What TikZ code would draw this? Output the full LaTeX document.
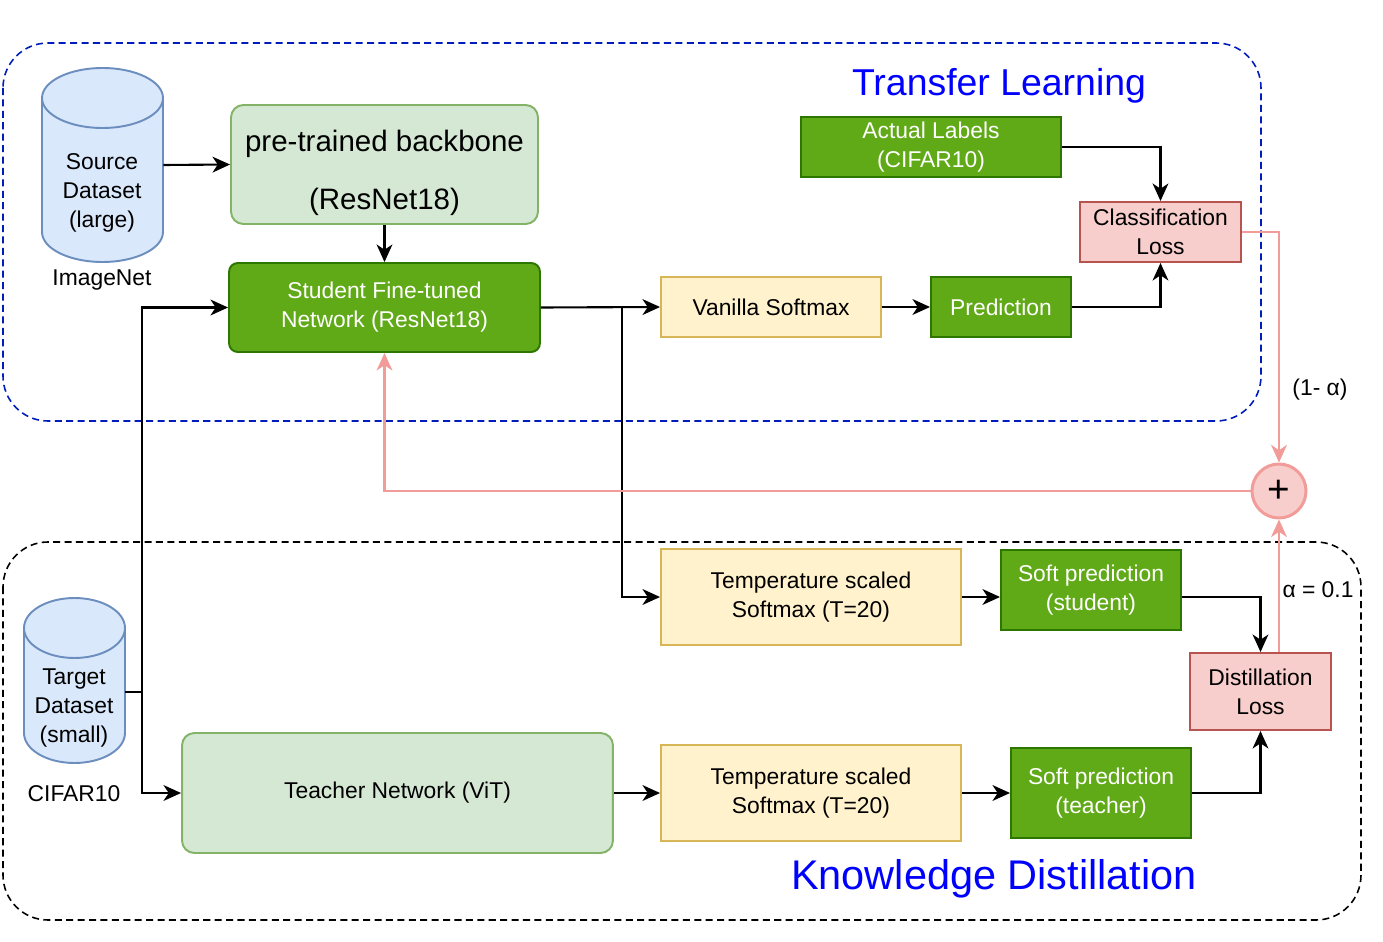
\documentclass[tikz,border=0pt]{standalone}
\usepackage{fontspec}
\setmainfont{Liberation Sans}
\usepackage{tikz}
\usetikzlibrary{positioning, arrows.meta, calc}

\definecolor{lgfill}{HTML}{D5E8D4}
\definecolor{lgdraw}{HTML}{82B366}
\definecolor{gfill}{HTML}{60A917}
\definecolor{gdraw}{HTML}{2D7600}
\definecolor{yfill}{HTML}{FFF2CC}
\definecolor{ydraw}{HTML}{D6B656}
\definecolor{rfill}{HTML}{F8CECC}
\definecolor{rdraw}{HTML}{B85450}
\definecolor{pline}{HTML}{F19C99}
\definecolor{dbfill}{HTML}{DAE8FC}
\definecolor{dbdraw}{HTML}{6C8EBF}
\definecolor{grpblue}{HTML}{001DBC}
\definecolor{ttlblue}{HTML}{0000FF}

\begin{document}
\begin{tikzpicture}[
  x=0.02cm, y=-0.02cm,
  every node/.style={font=\fontsize{13}{16.5}\selectfont, align=center, inner sep=2pt},
  lgbox/.style={rounded corners=7pt, fill=lgfill, draw=lgdraw, line width=1.1pt},
  gbox/.style={fill=gfill, draw=gdraw, line width=1.1pt, text=white},
  ybox/.style={fill=yfill, draw=ydraw, line width=1.1pt},
  rbox/.style={fill=rfill, draw=rdraw, line width=1.1pt},
  db/.style={fill=dbfill, draw=dbdraw, line width=1.1pt},
  arr/.style={line width=1.2pt, -{Stealth[length=10pt, width=9pt, inset=3pt]}},
  parr/.style={pline, line width=1.2pt, -{Stealth[length=10pt, width=9pt, inset=3pt]}},
  grp/.style={dash pattern=on 4pt off 2.5pt, line width=0.9pt, rounded corners=0.9cm},
  ttl/.style={text=ttlblue, font=\fontsize{21.3}{24}\selectfont},
]
  \useasboundingbox (0,0) rectangle (1383,942);

  % group frames
  \draw[grp, grpblue] (3,43) rectangle (1261,421);
  \draw[grp, black] (3,542) rectangle (1361,920);
  \node[ttl] (tltitle) at (999,86) {Transfer Learning};
  \node[ttl, font=\fontsize{23.6}{26}\selectfont] (kdtitle) at (994,879) {Knowledge Distillation};

  % datasets
  \filldraw[db] (42,98) -- (42,232) arc[start angle=180, end angle=360, x radius=1.21cm, y radius=0.6cm]
    -- (163,98) arc[start angle=0, end angle=180, x radius=1.21cm, y radius=0.6cm] -- cycle;
  \draw[db, fill=none] (42,98) arc[start angle=180, end angle=360, x radius=1.21cm, y radius=0.6cm];
  \node[minimum width=2.42cm, minimum height=3.88cm, inner sep=0pt] (src) at (102.5,165) {};
  \node (srctxt) at (102,193) {Source\\Dataset\\(large)};
  \node (imgnet) at (102,280) {ImageNet};

  \filldraw[db] (24,628) -- (24,733) arc[start angle=180, end angle=360, x radius=1.01cm, y radius=0.6cm]
    -- (125,628) arc[start angle=0, end angle=180, x radius=1.01cm, y radius=0.6cm] -- cycle;
  \draw[db, fill=none] (24,628) arc[start angle=180, end angle=360, x radius=1.01cm, y radius=0.6cm];
  \node[minimum width=2.02cm, minimum height=3.3cm, inner sep=0pt] (tgt) at (74.5,680.5) {};
  \node (tgttxt) at (74,708) {Target\\Dataset\\(small)};
  \node (cifar) at (74,794) {CIFAR10};

  % transfer learning branch
  \node[lgbox, minimum width=6.14cm, minimum height=2.38cm, font=\fontsize{16.8}{33}\selectfont] (pre) at (384.5,164.5) {\rule{0pt}{22pt}pre-trained backbone\\(ResNet18)};
  \node[gbox, rounded corners=5pt, minimum width=6.22cm, minimum height=1.78cm] (student) at (384.5,307.5) {Student Fine-tuned\\Network (ResNet18)};
  \node[ybox, minimum width=4.4cm, minimum height=1.2cm] (vanilla) at (771,307) {Vanilla Softmax};
  \node[gbox, minimum width=2.8cm, minimum height=1.2cm] (pred) at (1001,307) {Prediction};
  \node[gbox, minimum width=5.2cm, minimum height=1.2cm] (labels) at (931,147) {Actual Labels\\(CIFAR10)};
  \node[rbox, minimum width=3.22cm, minimum height=1.2cm] (closs) at (1160.5,232) {Classification\\Loss};

  % distillation branch
  \node[ybox, minimum width=6cm, minimum height=1.92cm] (temps) at (811,597) {Temperature scaled\\Softmax (T=20)};
  \node[gbox, minimum width=3.6cm, minimum height=1.6cm] (softs) at (1091,590) {Soft prediction\\(student)};
  \node[rbox, minimum width=2.82cm, minimum height=1.54cm] (dloss) at (1260.5,691.5) {Distillation\\Loss};
  \node[lgbox, minimum width=8.62cm, minimum height=2.4cm] (teacher) at (397.5,793) {Teacher Network (ViT)};
  \node[ybox, minimum width=6cm, minimum height=1.92cm] (tempt) at (811,793) {Temperature scaled\\Softmax (T=20)};
  \node[gbox, minimum width=3.6cm, minimum height=1.8cm] (softt) at (1101,793) {Soft prediction\\(teacher)};

  % weighted sum
  \node[circle, fill=rfill, draw=pline, line width=1.7pt, minimum size=1.08cm, inner sep=0pt,
        font=\fontsize{22}{22}\selectfont] (plus) at (1279,491) {+};
  \node (wcls) at (1320,390) {(1- α)};
  \node (wkd) at (1318,590) {α = 0.1};

  % connectors
  \coordinate (split) at (142,692);
  \coordinate (fork) at (622,307);
  \draw[line width=1.2pt] (tgt.east |- split) -- (split);
  \draw[arr] (split) |- (student.west);
  \draw[arr] (split) |- (teacher.west);
  \draw[arr] (src.east) -- (pre.west);
  \draw[arr] (pre.south) -- (student.north);
  \draw[arr] (student.east) -- (vanilla.west);
  \draw[arr] (fork) |- (temps.west);
  \draw[arr] (vanilla.east) -- (pred.west);
  \draw[arr] (pred.east) -| (closs.south);
  \draw[arr] (labels.east) -| (closs.north);
  \draw[arr] (temps.east) -- (softs.west |- temps.east);
  \draw[arr] (softs.east |- temps.east) -| (dloss.north);
  \draw[arr] (teacher.east) -- (tempt.west);
  \draw[arr] (tempt.east) -- (softt.west);
  \draw[arr] (softt.east) -| (dloss.south);
  \draw[parr] (closs.east) -| (plus.north);
  \draw[parr] (plus |- dloss.north) -- (plus.south);
  \draw[parr] (plus.west) -| (student.south);
\end{tikzpicture}
\end{document}
